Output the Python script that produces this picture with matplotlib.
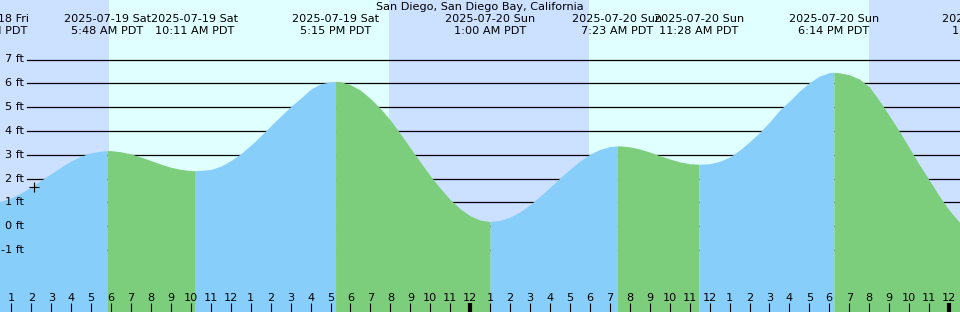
import numpy as np
import matplotlib
matplotlib.use('Agg')
import matplotlib.pyplot as plt
import matplotlib.transforms as mtransforms

# hours counted from 2025-07-19 00:00 PDT
event_times = [-0.15, 5.8, 10.18, 17.25, 25.0, 31.38, 35.47, 42.23, 49.95]
event_heights = [0.95, 3.17, 2.33, 6.08, 0.19, 3.37, 2.6, 6.46, -0.45]
event_dates = ['2025-07-18 Fri', '2025-07-19 Sat', '2025-07-19 Sat', '2025-07-19 Sat',
               '2025-07-20 Sun', '2025-07-20 Sun', '2025-07-20 Sun', '2025-07-20 Sun',
               '2025-07-21 Mon']
event_clock = ['11:51 PM PDT', '5:48 AM PDT', '10:11 AM PDT', '5:15 PM PDT', '1:00 AM PDT',
               '7:23 AM PDT', '11:28 AM PDT', '6:14 PM PDT', '1:57 AM PDT']

# water level read every half hour
half_hours = np.arange(0, 49.5, 0.5)
heights = [0.97, 1.05, 1.19, 1.40, 1.65, 1.93, 2.21, 2.49, 2.74, 2.94, 3.08, 3.15,
           3.17, 3.12, 3.03, 2.90, 2.75, 2.60, 2.47, 2.38, 2.33, 2.34, 2.38, 2.52,
           2.75, 3.04, 3.40, 3.79, 4.21, 4.62, 5.02, 5.37, 5.75, 5.98, 6.06, 6.065,
           5.94, 5.71, 5.36, 4.94, 4.45, 3.88, 3.28, 2.69, 2.11, 1.59, 1.11, 0.73,
           0.43, 0.25, 0.19, 0.24, 0.38, 0.60, 0.90, 1.25, 1.63, 2.02, 2.39, 2.73,
           3.02, 3.22, 3.34, 3.37, 3.33, 3.24, 3.11, 2.96, 2.82, 2.70, 2.62, 2.60,
           2.62, 2.72, 2.90, 3.19, 3.54, 3.93, 4.37, 4.86, 5.25, 5.67, 6.03, 6.30,
           6.45, 6.44, 6.36, 6.18, 5.86, 5.28, 4.65, 4.00, 3.30, 2.60, 1.95, 1.28,
           0.68, 0.18, -0.15]

sun_times = [5.895, 19.93, 29.95, 43.99]   # sunrise, sunset, sunrise, sunset
now_time = 2.13
now_height = 1.66
ft_levels = list(range(-1, 8))
title = 'San Diego, San Diego Bay, California'

night_color = '#cce0ff'
day_color = '#e0ffff'
rise_color = '#87cefa'
fall_color = '#7ccd7c'

t_all = np.concatenate([half_hours, event_times])
h_all = np.concatenate([heights, event_heights])
order = np.argsort(t_all, kind='stable')
t_all = t_all[order]
h_all = h_all[order]

fig = plt.figure(figsize=(9.6, 3.12), dpi=100)
ax = fig.add_axes([0, 0, 1, 1])
x0, x1 = (0 + 8.6) / 19.95, (960 + 8.6) / 19.95
y0, y1 = (226.1 - 312) / 23.8, 226.1 / 23.8
ax.set_xlim(x0, x1)
ax.set_ylim(y0, y1)

# day / night background
edges = [x0 - 1] + sun_times + [x1 + 1]
for i in range(len(edges) - 1):
    ax.axvspan(edges[i], edges[i + 1], color=night_color if i % 2 == 0 else day_color,
               lw=0, zorder=0)

for ft in ft_levels:
    ax.axhline(ft, xmin=27 / 960, color='black', lw=0.9, zorder=1)

# tide fill, blue when rising, green when falling
for i in range(len(event_times) - 1):
    a, b = event_times[i], event_times[i + 1]
    m = (t_all >= a) & (t_all <= b)
    c = rise_color if event_heights[i + 1] > event_heights[i] else fall_color
    ax.fill_between(t_all[m], h_all[m], y0, color=c, lw=0, zorder=2)

ax.plot(now_time, now_height, marker='+', ms=7.5, mew=0.8, color='black', zorder=4)

fs = 8.1
ty = mtransforms.blended_transform_factory(ax.transAxes, ax.transData)
for ft in ft_levels:
    ax.text(24 / 960, ft, f'{ft} ft', transform=ty, ha='right', va='center', fontsize=fs, zorder=5)

tx = mtransforms.blended_transform_factory(ax.transData, ax.transAxes)
for t, d, c in zip(event_times, event_dates, event_clock):
    ax.text(t, 1 - 19.3 / 312, d, transform=tx, ha='center', va='center', fontsize=fs, zorder=5)
    ax.text(t, 1 - 30.7 / 312, c, transform=tx, ha='center', va='center', fontsize=fs, zorder=5)
ax.text(0.5, 1 - 7.5 / 312, title, transform=ax.transAxes, ha='center', va='center', fontsize=fs, zorder=5)

tick_hours = list(range(1, 49))
ax.set_xticks(tick_hours)
ax.set_xticklabels([str((h - 1) % 12 + 1) for h in tick_hours])
ax.tick_params(axis='x', direction='in', length=6.5, width=0.8, pad=-14, labelsize=fs)
for tk, h in zip(ax.xaxis.get_major_ticks(), tick_hours):
    if h % 24 == 0:
        tk.tick1line.set_markeredgewidth(3)
ax.set_yticks([])
for s in ax.spines.values():
    s.set_visible(False)
for lab in ax.get_xticklabels():
    lab.set_zorder(5)
ax.set_axisbelow(False)

fig.savefig('out.png', dpi=100)
